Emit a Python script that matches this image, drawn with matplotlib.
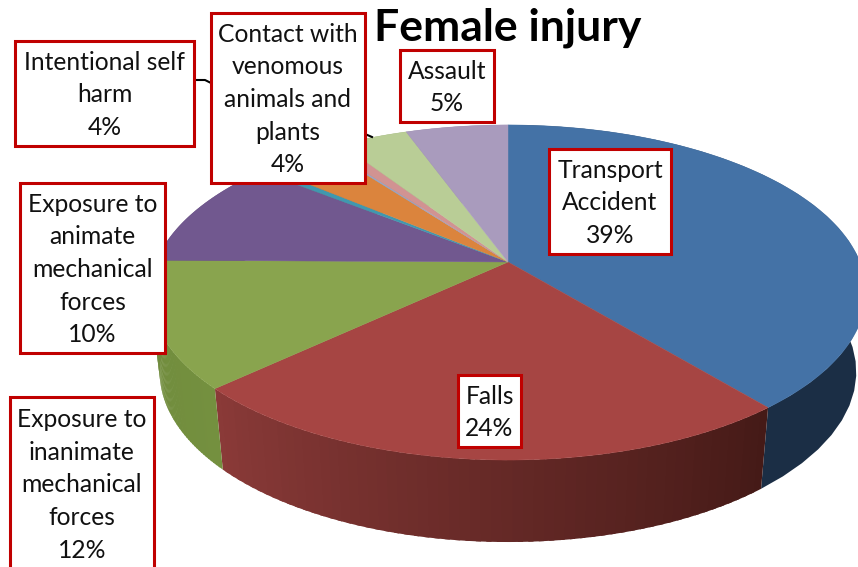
import numpy as np
import matplotlib
matplotlib.use('Agg')
import matplotlib.pyplot as plt
from matplotlib.patches import Rectangle
from matplotlib.colors import to_rgb

plt.rcParams['font.family'] = ['Lato', 'DejaVu Sans']

# Slice shares, clockwise from 12 o'clock
slice_names = ['Transport Accident', 'Falls', 'Exposure to inanimate mechanical forces',
               'Exposure to animate mechanical forces', 'teal', 'Intentional self harm',
               'thin blue', 'pink', 'Contact with venomous animals and plants', 'Assault']
slice_values = [39.05, 23.95, 12.17, 10.53, 0.5, 3.6, 0.15, 0.85, 3.7, 5.5]

top_colors = ['#4472a6', '#a64543', '#89a44e', '#71588f', '#4098af',
              '#db843d', '#93a9cf', '#d19392', '#b9cd96', '#a99bbd']

# rim colours, start and end of each slice
side_colors = [('#1b2e45', '#1b2e45'), ('#451a17', '#8a3a38'), ('#74903f', '#6f8a3c'),
               ('#54406b', '#54406b'), ('#2f7283', '#2f7283'), ('#a5632e', '#a5632e'),
               ('#6e7f9b', '#6e7f9b'), ('#9d6e6d', '#9d6e6d'), ('#8b9a71', '#8b9a71'),
               ('#7f748e', '#7f748e')]

# Data labels: text, box (left, top, right, bottom)
label_texts = ['Transport\nAccident\n39%', 'Falls\n24%',
               'Exposure to\ninanimate\nmechanical\nforces\n12%',
               'Exposure to\nanimate\nmechanical\nforces\n10%',
               'Intentional self\nharm\n4%',
               'Contact with\nvenomous\nanimals and\nplants\n4%',
               'Assault\n5%']
label_boxes = [(549, 149, 671, 254), (458, 375, 521, 447), (10, 397, 154, 570),
               (20, 183, 165, 353), (15, 41, 194, 146), (211, 13, 365, 183),
               (400, 50, 494, 122)]

# pie projection, in pixels
center_x, center_y = 508, 262
radius_x, radius_y = 352, 162
persp = 0.182
depth = 79
bottom_scale_x, bottom_scale_y = 0.973, 1.015


def rim(theta, drop=0.0, scale_x=1.0, scale_y=1.0):
    w = 1 + persp * np.cos(theta)
    x = center_x + scale_x * radius_x * np.sin(theta) / w
    y = center_y + drop - scale_y * radius_y * np.cos(theta) / w
    return x, y


fig = plt.figure(figsize=(8.58, 5.67), dpi=100)
ax = fig.add_axes([0, 0, 1, 1])
ax.set_xlim(0, 858)
ax.set_ylim(567, 0)
ax.axis('off')

edges = np.cumsum([0] + slice_values) / sum(slice_values) * 2 * np.pi

# side of the pie, small strips so the shading can change along the rim
for i in range(len(slice_values)):
    a, b = edges[i], edges[i + 1]
    c0 = np.array(to_rgb(side_colors[i][0]))
    c1 = np.array(to_rgb(side_colors[i][1]))
    n = 60 if side_colors[i][0] != side_colors[i][1] else 1
    # each strip runs a bit into the next one, that hides the seams
    for j in range(n):
        t = np.linspace(a + (b - a) * j / n, a + (b - a) * min(j + 1.5, n) / n, 30)
        x1, y1 = rim(t)
        x2, y2 = rim(t, depth, bottom_scale_x, bottom_scale_y)
        col = c0 + (c1 - c0) * j / max(n - 1, 1)
        ax.fill(np.r_[x1, x2[::-1]], np.r_[y1, y2[::-1]], color=col, lw=0, zorder=2)

# top of the pie
for i in range(len(slice_values)):
    t = np.linspace(edges[i], edges[i + 1], 200)
    x, y = rim(t)
    ax.fill(np.r_[center_x, x], np.r_[center_y, y], color=top_colors[i], lw=0.3, zorder=3)

# leader lines
ax.plot([195, 205, 211], [80, 80, 83], color='black', lw=1.5, zorder=4)
ax.plot([365, 372], [134, 137], color='black', lw=1.5, zorder=4)

for text, box in zip(label_texts, label_boxes):
    left, top, right, bottom = box
    ax.add_patch(Rectangle((left, top), right - left, bottom - top, facecolor='white',
                           edgecolor='#c00000', lw=2.2, zorder=5))
    ax.text((left + right) / 2, (top + bottom) / 2 + 1.5, text, ha='center', va='center',
            fontsize=17.7, color='#111111', linespacing=1.51, zorder=6)

ax.text(508, 28, 'Female injury', ha='center', va='center', fontsize=32,
        fontweight='bold', color='black', zorder=6)

fig.savefig('out.png', dpi=100)
